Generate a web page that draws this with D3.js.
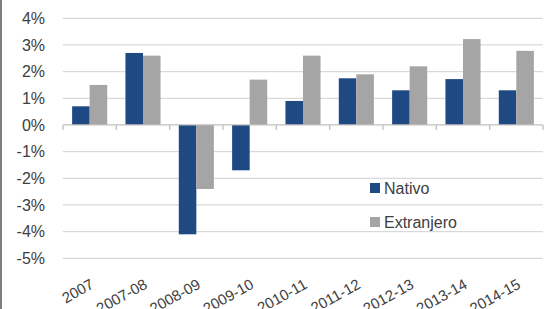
<!DOCTYPE html>
<html>
<head>
<meta charset="utf-8">
<script src="https://cdn.jsdelivr.net/npm/d3@7"></script>
<style>
  body { margin: 0; background: #fff; }
  svg { display: block; font-family: "Liberation Sans", Arial, sans-serif; }
</style>
</head>
<body>
<div id="chart"></div>
<script>
var categories = ['2007', '2007-08', '2008-09', '2009-10', '2010-11', '2011-12', '2012-13', '2013-14', '2014-15'];
var nativo = [0.7, 2.7, -4.1, -1.7, 0.9, 1.75, 1.3, 1.72, 1.3];
var extranjero = [1.5, 2.6, -2.4, 1.7, 2.6, 1.9, 2.2, 3.22, 2.78];
var seriesNames = ['Nativo', 'Extranjero'];
var yTicks = [4, 3, 2, 1, 0, -1, -2, -3, -4, -5];

var width = 553, height = 309;
var plotLeft = 63, plotRight = 543;
var colors = {Nativo: '#1f4983', Extranjero: '#a5a5a5'};

var svg = d3.select('#chart').append('svg')
  .attr('width', width)
  .attr('height', height);

// left border from the screenshot
svg.append('line')
  .attr('x1', 1).attr('x2', 1)
  .attr('y1', 0).attr('y2', height)
  .attr('stroke', '#7f7f7f')
  .attr('stroke-width', 2);

var x = d3.scaleBand()
  .domain(categories)
  .range([plotLeft, plotRight]);

var xInner = d3.scaleBand()
  .domain(seriesNames)
  .range([0, x.bandwidth()])
  .paddingOuter(0.52)
  .paddingInner(0);

var y = d3.scaleLinear()
  .domain([-5, 4])
  .range([258.3, 18.3]);

// gridlines
svg.append('g')
  .selectAll('line')
  .data(yTicks.filter(function(d) { return d !== 0; }))
  .join('line')
  .attr('x1', plotLeft)
  .attr('x2', plotRight)
  .attr('y1', function(d) { return y(d); })
  .attr('y2', function(d) { return y(d); })
  .attr('stroke', '#d9d9d9')
  .attr('stroke-width', 1.3);

// y labels
svg.append('g')
  .selectAll('text')
  .data(yTicks)
  .join('text')
  .attr('x', 45)
  .attr('y', function(d) { return y(d); })
  .attr('dy', '0.35em')
  .attr('text-anchor', 'end')
  .attr('fill', '#404040')
  .style('font-size', '16px')
  .text(function(d) { return d + '%'; });

// bars
var rows = categories.map(function(c, i) {
  return {cat: c, values: [{name: 'Nativo', v: nativo[i]}, {name: 'Extranjero', v: extranjero[i]}]};
});

var groups = svg.append('g')
  .selectAll('g')
  .data(rows)
  .join('g')
  .attr('transform', function(d) { return 'translate(' + x(d.cat) + ',0)'; });

groups.selectAll('rect')
  .data(function(d) { return d.values; })
  .join('rect')
  .attr('x', function(d) { return xInner(d.name); })
  .attr('width', xInner.bandwidth())
  .attr('y', function(d) { return y(Math.max(0, d.v)); })
  .attr('height', function(d) { return Math.abs(y(d.v) - y(0)); })
  .attr('fill', function(d) { return colors[d.name]; });

// zero axis with ticks
var zero = svg.append('g');
zero.append('line')
  .attr('x1', plotLeft).attr('x2', plotRight)
  .attr('y1', y(0)).attr('y2', y(0))
  .attr('stroke', '#bfbfbf')
  .attr('stroke-width', 1.3);
zero.selectAll('.tick')
  .data(categories.concat(['end']))
  .join('line')
  .attr('x1', function(d) { return d === 'end' ? plotRight : x(d); })
  .attr('x2', function(d) { return d === 'end' ? plotRight : x(d); })
  .attr('y1', y(0))
  .attr('y2', y(0) + 5)
  .attr('stroke', '#bfbfbf')
  .attr('stroke-width', 1.3);

// x labels, rotated (bottom of them is cut off in the original too)
svg.append('g')
  .selectAll('text')
  .data(categories)
  .join('text')
  .attr('transform', function(d) {
    return 'translate(' + (x(d) + x.bandwidth() / 2) + ',278) rotate(-29)';
  })
  .attr('text-anchor', 'end')
  .attr('dy', '0.72em')
  .attr('fill', '#404040')
  .style('font-size', '15px')
  .text(function(d) { return d; });

// legend
var legend = svg.append('g')
  .selectAll('g')
  .data(seriesNames)
  .join('g')
  .attr('transform', function(d, i) { return 'translate(370,' + (183 + i * 34) + ')'; });

legend.append('rect')
  .attr('width', 10)
  .attr('height', 10)
  .attr('fill', function(d) { return colors[d]; });

legend.append('text')
  .attr('x', 14)
  .attr('y', 5)
  .attr('dy', '0.35em')
  .attr('fill', '#404040')
  .style('font-size', '16px')
  .text(function(d) { return d; });
</script>
</body>
</html>
